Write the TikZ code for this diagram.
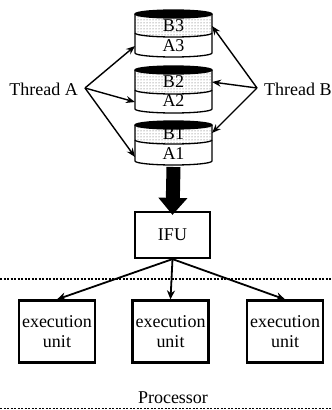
\documentclass[tikz,border=0pt]{standalone}
\usepackage{fontspec}
\setmainfont{Liberation Serif}
\usetikzlibrary{arrows.meta,patterns}
\begin{document}
\begin{tikzpicture}[x=1pt,y=1pt,
  every node/.style={font=\fontsize{18}{20}\selectfont, inner sep=0pt},
  cyl/.style={line width=1.3pt},
  arr/.style={line width=1.4pt,-{Stealth[length=9pt,width=7pt]}},
  box/.style={draw,line width=2.2pt,minimum width=76pt,minimum height=62pt,align=center},
  ifubox/.style={draw,line width=2.2pt,minimum width=75pt,minimum height=46pt},
  stip/.style={pattern=dots,pattern color=black!70}]
\useasboundingbox (0,0) rectangle (332,-410);
% cylinders: top, divider, bottom
\foreach \t/\d/\b in {14/33/53, 70/90/109, 125/140/161}{
  \fill[stip] (135,-\t) -- (135,-\d) arc[start angle=180,end angle=360,x radius=38.5pt,y radius=4pt] -- (212,-\t) -- cycle;
  \draw[cyl] (135,-\t) -- (135,-\b) arc[start angle=180,end angle=360,x radius=38.5pt,y radius=4pt] -- (212,-\t);
  \draw[cyl] (135,-\d) arc[start angle=180,end angle=360,x radius=38.5pt,y radius=4pt];
  \filldraw[cyl] (173.5,-\t) ellipse[x radius=38.5pt,y radius=4pt];
}
\node (b3) at (173.5,-26) {B3};
\node (a3) at (173.5,-46) {A3};
\node (b2) at (173.5,-82) {B2};
\node (a2) at (173.5,-101) {A2};
\node (b1) at (173.5,-134) {B1};
\node (a1) at (173.5,-154) {A1};
\coordinate (a3w) at (135,-46);
\coordinate (a2w) at (135,-102);
\coordinate (a1w) at (135,-157);
\coordinate (b3e) at (212,-26);
\coordinate (b2e) at (212,-82);
\coordinate (b1e) at (212,-133);
\coordinate (cylbot) at (173.5,-167);
% thread labels
\node[anchor=east] (tA) at (78,-89) {Thread A};
\node[anchor=west] (tB) at (264,-89) {Thread B};
\coordinate (ta) at (85,-88);
\coordinate (tb) at (257,-88);
\draw[arr] (ta) -- (a3w);
\draw[arr] (ta) -- (a2w);
\draw[arr] (ta) -- (a1w);
\draw[arr] (tb) -- (b3e);
\draw[arr] (tb) -- (b2e);
\draw[arr] (tb) -- (b1e);
% IFU
\node[ifubox] (ifu) at (172.5,-235) {IFU};
\draw[line width=14pt,-{Triangle[length=17pt,width=28pt]}] (cylbot) -- ([yshift=-4pt]ifu.north);
% dotted separator
\draw[line width=2pt,dash pattern=on 2pt off 1.5pt] (0,-279) -- (332,-279);
% execution units
\node[box] (e1) at (57,-331.5) {execution\\unit};
\node[box] (e2) at (170.5,-331.5) {execution\\unit};
\node[box] (e3) at (285,-331.5) {execution\\unit};
\draw[line width=1.8pt,-{Stealth[length=9pt,width=8pt]}] (ifu.south) -- (e1.north);
\draw[line width=1.8pt,-{Stealth[length=9pt,width=8pt]}] (ifu.south) -- (e2.north);
\draw[line width=1.8pt,-{Stealth[length=9pt,width=8pt]}] (ifu.south) -- (e3.north);
\node (proc) at (173,-398) {Processor};
\draw[line width=0.9pt,dash pattern=on 2pt off 1.5pt] (0,-408) -- (332,-408);
\end{tikzpicture}
\end{document}
